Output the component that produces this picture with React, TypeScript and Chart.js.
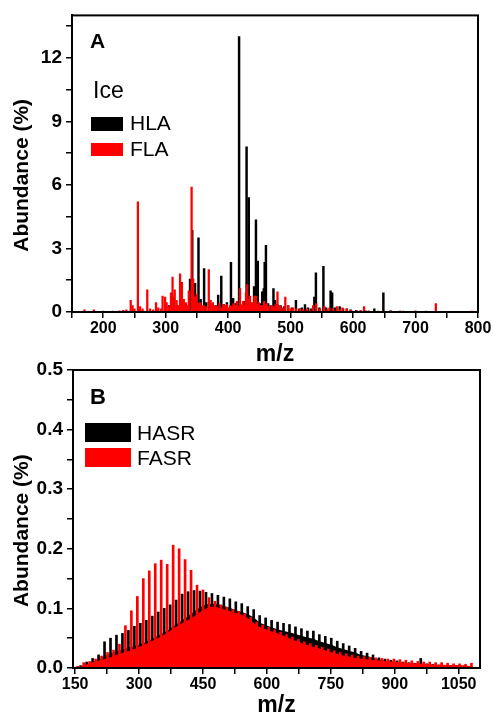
import React, { useEffect, useRef } from "react";
import { Chart, registerables } from "chart.js";

Chart.register(...registerables);

const FONT = "'Liberation Sans', Arial, sans-serif";

// ---------- Panel A (Ice: HLA / FLA) ----------
const hlaMz = [305, 311, 318, 325, 332, 338, 339, 342.5, 347, 352.5, 356, 361.5, 365, 370, 375, 380, 384, 389, 393, 398, 404.5, 408, 412, 417.5, 421, 425, 429.5, 433, 436, 441.5, 444.5, 447.5, 451, 454.5, 457, 458.5, 460.5, 464, 468, 472.5, 475, 479, 484, 490, 496, 502, 508.5, 514, 518, 523, 528, 533, 538, 540.5, 546, 552.5, 557, 564, 566.5, 571, 578.5, 584, 590, 596, 605, 620, 634, 648.5, 660, 675];
const hlaAbundance = [0.3, 0.7, 0.3, 0.6, 0.4, 0.9, 1.55, 3.85, 1.35, 3.5, 0.6, 2.05, 0.45, 0.4, 0.35, 0.3, 0.8, 1.7, 0.35, 0.45, 2.35, 0.65, 0.4, 13.0, 0.3, 0.5, 7.8, 5.4, 0.45, 1.2, 4.35, 2.4, 0.4, 0.95, 1.1, 2.35, 3.15, 0.4, 0.3, 1.1, 0.55, 0.35, 0.3, 0.25, 0.3, 0.2, 0.55, 0.15, 0.2, 0.35, 0.2, 0.15, 0.7, 1.85, 0.2, 2.15, 0.2, 1.0, 0.9, 0.2, 0.25, 0.15, 0.15, 0.1, 0.08, 0.05, 0.15, 0.9, 0.05, 0.04];

const flaMz = [170, 185, 200, 215, 226, 232, 237, 244, 247, 250, 255.5, 259, 263, 270.5, 275, 280, 284.5, 288, 292, 295, 299, 301.5, 305, 308.5, 311, 314.5, 317.5, 320, 323, 326, 329, 332, 334.5, 337, 341.5, 344, 346.5, 349.5, 352, 355, 358, 361, 364.5, 369, 372, 375.5, 379, 382, 386, 389, 392, 395, 398, 401, 403, 406, 408.5, 411, 414, 416, 419, 422, 424, 426.5, 428.5, 430.5, 433, 435, 438, 440, 442, 444.5, 447, 449, 452, 454, 457.5, 460, 462, 465, 469.5, 473, 476, 479, 483, 487, 491.5, 496, 500, 504, 509, 515, 520, 526, 531, 536, 541, 547, 554, 559, 562, 568, 574, 579, 583, 590, 597, 605, 612, 617.5, 625, 640, 660, 680, 700, 717, 732.5, 760, 790];
const flaAbundance = [0.1, 0.1, 0.04, 0.04, 0.05, 0.08, 0.1, 0.55, 0.3, 0.15, 5.2, 0.25, 0.15, 1.05, 0.15, 0.1, 0.45, 0.2, 0.15, 0.75, 0.7, 0.45, 0.25, 0.9, 1.65, 1.05, 0.55, 0.3, 1.8, 1.4, 0.6, 0.45, 0.3, 1.0, 5.9, 1.55, 0.7, 0.85, 0.4, 0.45, 0.3, 0.3, 0.25, 2.0, 0.55, 0.45, 0.3, 0.25, 0.4, 0.2, 0.35, 0.3, 0.35, 0.2, 0.3, 0.25, 0.4, 0.3, 0.5, 0.25, 1.1, 0.35, 0.5, 0.3, 0.9, 1.3, 0.6, 0.75, 0.4, 0.45, 0.75, 0.75, 0.35, 0.45, 0.3, 0.3, 0.5, 0.3, 0.4, 0.25, 0.3, 0.25, 0.35, 0.95, 0.3, 0.2, 0.7, 0.3, 0.15, 0.2, 0.15, 0.15, 0.12, 0.15, 0.1, 0.3, 0.4, 0.15, 0.25, 0.1, 0.2, 0.15, 0.25, 0.12, 0.2, 0.15, 0.08, 0.06, 0.08, 0.25, 0.05, 0.04, 0.05, 0.04, 0.05, 0.04, 0.4, 0.03, 0.04];

// ---------- Panel B (HASR / FASR) ----------
const fasrMz = [156, 170, 184, 198, 212, 226, 240, 254, 268, 282, 296, 310, 324, 338, 352, 366, 380, 394, 408, 422, 436, 450, 464, 478, 492, 506, 520, 534, 548, 562, 576, 590, 604, 618, 632, 646, 660, 674, 688, 702, 716, 730, 744, 758, 772, 786, 800, 814, 828, 842, 856, 870, 884, 898, 912, 926, 940, 954, 968, 982, 996, 1010, 1024, 1038, 1052, 1066, 1080];
const fasrBase = [0, 0.004, 0.008, 0.011, 0.014, 0.016, 0.02, 0.024, 0.027, 0.03, 0.034, 0.038, 0.043, 0.048, 0.053, 0.059, 0.066, 0.072, 0.078, 0.083, 0.09, 0.097, 0.102, 0.103, 0.1, 0.097, 0.094, 0.091, 0.087, 0.08, 0.071, 0.067, 0.063, 0.06, 0.056, 0.052, 0.048, 0.044, 0.04, 0.037, 0.034, 0.031, 0.028, 0.025, 0.022, 0.02, 0.018, 0.016, 0.015, 0.014, 0.013, 0.012, 0.011, 0.0105, 0.01, 0.009, 0.008, 0.0075, 0.007, 0.0065, 0.006, 0.0055, 0.005, 0.005, 0.005, 0.004, 0.003];
const fasrPeak = [0.003, 0.009, 0.011, 0.015, 0.02, 0.026, 0.03, 0.04, 0.071, 0.096, 0.12, 0.15, 0.163, 0.175, 0.181, 0.174, 0.206, 0.2, 0.182, 0.164, 0.139, 0.131, 0.118, 0.112, 0.106, 0.102, 0.098, 0.095, 0.091, 0.085, 0.077, 0.072, 0.068, 0.064, 0.06, 0.056, 0.052, 0.048, 0.044, 0.041, 0.038, 0.035, 0.032, 0.029, 0.026, 0.024, 0.022, 0.02, 0.019, 0.018, 0.017, 0.016, 0.015, 0.015, 0.014, 0.013, 0.012, 0.011, 0.01, 0.01, 0.009, 0.009, 0.008, 0.007, 0.007, 0.006, 0.008];

const hasrMz = [163, 177, 191, 205, 219, 233, 247, 261, 275, 289, 303, 317, 331, 345, 359, 373, 387, 401, 415, 429, 443, 457, 471, 485, 499, 513, 527, 541, 555, 569, 583, 597, 611, 625, 639, 653, 667, 681, 695, 709, 723, 737, 751, 765, 779, 793, 807, 821, 835, 849, 863, 877, 891, 905, 919, 933, 947, 961, 975, 989, 1003, 1017, 1031, 1045, 1059, 1073, 1087];
const hasrBase = [0.002, 0.006, 0.01, 0.014, 0.02, 0.024, 0.028, 0.031, 0.034, 0.037, 0.04, 0.044, 0.049, 0.054, 0.06, 0.066, 0.073, 0.08, 0.087, 0.095, 0.102, 0.107, 0.108, 0.107, 0.104, 0.101, 0.097, 0.094, 0.09, 0.085, 0.076, 0.072, 0.068, 0.065, 0.062, 0.06, 0.057, 0.054, 0.051, 0.049, 0.045, 0.042, 0.039, 0.035, 0.032, 0.029, 0.026, 0.022, 0.02, 0.017, 0.014, 0.012, 0.011, 0.01, 0.009, 0.008, 0.007, 0.007, 0.006, 0.005, 0.004, 0.004, 0.003, 0.003, 0.002, 0.002, 0.001];
const hasrPeak = [0.004, 0.01, 0.016, 0.022, 0.044, 0.05, 0.055, 0.058, 0.063, 0.07, 0.075, 0.08, 0.087, 0.094, 0.1, 0.106, 0.114, 0.124, 0.128, 0.13, 0.129, 0.127, 0.125, 0.122, 0.119, 0.116, 0.111, 0.108, 0.103, 0.098, 0.088, 0.084, 0.08, 0.077, 0.075, 0.073, 0.069, 0.066, 0.062, 0.062, 0.056, 0.053, 0.05, 0.045, 0.041, 0.037, 0.033, 0.028, 0.025, 0.022, 0.017, 0.015, 0.013, 0.012, 0.01, 0.009, 0.008, 0.016, 0.007, 0.006, 0.005, 0.004, 0.004, 0.003, 0.003, 0.002, 0.001];

const RED = "#ff0000";
const BLACK = "#000000";

const pts = (xs: number[], ys: number[]) => xs.map((x, i) => ({ x, y: ys[i] }));

type LegendItem = { label: string; color: string; box: [number, number, number, number]; tx: number; ty: number };

function decorPlugin(letter: { text: string; x: number; y: number; size: number }, header: { text: string; x: number; y: number } | null, items: LegendItem[], textSize: number) {
  return {
    id: "decor",
    afterDatasetsDraw(chart: any) {
      const { ctx, chartArea } = chart;
      ctx.save();
      ctx.strokeStyle = "#000";
      ctx.lineWidth = 2;
      ctx.strokeRect(chartArea.left, chartArea.top, chartArea.right - chartArea.left, chartArea.bottom - chartArea.top);
      ctx.restore();
    },
    afterDraw(chart: any) {
      const { ctx } = chart;
      ctx.save();
      ctx.fillStyle = "#000";
      ctx.textAlign = "left";
      ctx.textBaseline = "alphabetic";
      ctx.font = `bold ${letter.size}px ${FONT}`;
      ctx.fillText(letter.text, letter.x, letter.y);
      if (header) {
        ctx.font = `23px ${FONT}`;
        ctx.fillText(header.text, header.x, header.y);
      }
      ctx.font = `${textSize}px ${FONT}`;
      for (const it of items) {
        ctx.fillStyle = it.color;
        ctx.fillRect(it.box[0], it.box[1], it.box[2], it.box[3]);
        ctx.fillStyle = "#000";
        ctx.fillText(it.label, it.tx, it.ty);
      }
      ctx.restore();
    },
  };
}

function axisTitle(text: string, size: number, padding: any) {
  return { display: true, text, color: "#000", font: { family: FONT, size, weight: "bold" as const, lineHeight: 1 }, padding };
}

function configA(): any {
  return {
    type: "bar",
    data: {
      datasets: [
        { label: "FLA", data: pts(flaMz, flaAbundance), backgroundColor: RED, barThickness: 1.6, grouped: false, order: 0 },
        { label: "HLA", data: pts(hlaMz, hlaAbundance), backgroundColor: BLACK, barThickness: 1.8, grouped: false, order: 1 },
      ],
    },
    options: {
      animation: false,
      responsive: false,
      devicePixelRatio: 1,
      layout: { padding: { left: 0, top: 14, right: 15, bottom: 0 } },
      plugins: { legend: { display: false }, tooltip: { enabled: false } },
      scales: {
        x: {
          type: "linear",
          min: 150,
          max: 800,
          offset: false,
          grid: { offset: false, drawOnChartArea: false, drawTicks: true, tickLength: 6, color: "#000", lineWidth: 1.5 },
          border: { display: true, color: "#000", width: 2 },
          ticks: {
            stepSize: 50,
            autoSkip: false,
            includeBounds: false,
            maxRotation: 0,
            padding: 1,
            color: "#000",
            font: { family: FONT, size: 16, weight: "bold" },
            callback: (v: number) => (v % 100 === 0 ? String(v) : ""),
          },
          title: axisTitle("m/z", 23, { top: 0, bottom: 3.5 }),
          afterFit: (s: any) => { s.height = 58; },
        },
        y: {
          min: 0,
          max: 14,
          grid: { drawOnChartArea: false, drawTicks: true, tickLength: 6, color: "#000", lineWidth: 1.5 },
          border: { display: true, color: "#000", width: 2 },
          ticks: {
            stepSize: 1.5,
            autoSkip: false,
            includeBounds: false,
            padding: 4,
            color: "#000",
            font: { family: FONT, size: 19, weight: "bold" },
            callback: (v: number) => (Math.abs(v % 3) < 1e-9 ? String(v) : ""),
          },
          title: axisTitle("Abundance (%)    ", 21, { top: 12, bottom: 0 }),
          afterFit: (s: any) => { s.width = 72; },
        },
      },
    },
    plugins: [
      decorPlugin(
        { text: "A", x: 90, y: 48, size: 21 },
        { text: "Ice", x: 93, y: 98 },
        [
          { label: "HLA", color: BLACK, box: [91, 117, 32, 14], tx: 130, ty: 130 },
          { label: "FLA", color: RED, box: [91, 143, 32, 13], tx: 130, ty: 156 },
        ],
        21
      ),
    ],
  };
}

function configB(): any {
  return {
    type: "bar",
    data: {
      datasets: [
        { label: "FASR peaks", data: pts(fasrMz, fasrPeak), backgroundColor: RED, barThickness: 2, grouped: false, order: 0 },
        { type: "line", label: "FASR", data: pts(fasrMz, fasrBase), backgroundColor: RED, borderColor: RED, borderWidth: 0, pointRadius: 0, tension: 0, fill: "origin", order: 1 },
        { label: "HASR peaks", data: pts(hasrMz, hasrPeak), backgroundColor: BLACK, barThickness: 2, grouped: false, order: 2 },
        { type: "line", label: "HASR", data: pts(hasrMz, hasrBase), backgroundColor: BLACK, borderColor: BLACK, borderWidth: 0, pointRadius: 0, tension: 0, fill: "origin", order: 3 },
      ],
    },
    options: {
      animation: false,
      responsive: false,
      devicePixelRatio: 1,
      layout: { padding: { left: 0, top: 20, right: 13, bottom: 0 } },
      plugins: { legend: { display: false }, tooltip: { enabled: false } },
      scales: {
        x: {
          type: "linear",
          min: 145,
          max: 1100,
          offset: false,
          grid: { offset: false, drawOnChartArea: false, drawTicks: true, tickLength: 6, color: "#000", lineWidth: 1.5 },
          border: { display: true, color: "#000", width: 2 },
          ticks: {
            stepSize: 75,
            autoSkip: false,
            includeBounds: false,
            maxRotation: 0,
            padding: 1,
            color: "#000",
            font: { family: FONT, size: 16, weight: "bold" },
            callback: (v: number) => (v % 150 === 0 ? String(v) : ""),
          },
          title: axisTitle("m/z", 23, { top: 0, bottom: 0 }),
          afterFit: (s: any) => { s.height = 49; },
        },
        y: {
          min: 0,
          max: 0.5,
          grid: { drawOnChartArea: false, drawTicks: true, tickLength: 6, color: "#000", lineWidth: 1.5 },
          border: { display: true, color: "#000", width: 2 },
          ticks: {
            stepSize: 0.05,
            autoSkip: false,
            includeBounds: false,
            padding: 4,
            color: "#000",
            font: { family: FONT, size: 19, weight: "bold" },
            callback: (v: number) => (Math.round(v * 100) % 10 === 0 ? v.toFixed(1) : ""),
          },
          title: axisTitle("Abundance (%)    ", 21, { top: 12, bottom: 0 }),
          afterFit: (s: any) => { s.width = 73; },
        },
      },
    },
    plugins: [
      decorPlugin(
        { text: "B", x: 90, y: 54, size: 22 },
        null,
        [
          { label: "HASR", color: BLACK, box: [85, 73, 46, 19], tx: 137, ty: 90 },
          { label: "FASR", color: RED, box: [85, 98, 46, 19], tx: 137, ty: 115 },
        ],
        21
      ),
    ],
  };
}

export default function App() {
  const topRef = useRef<HTMLCanvasElement>(null);
  const botRef = useRef<HTMLCanvasElement>(null);
  useEffect(() => {
    const a = new Chart(topRef.current as HTMLCanvasElement, configA());
    const b = new Chart(botRef.current as HTMLCanvasElement, configB());
    return () => {
      a.destroy();
      b.destroy();
    };
  }, []);
  return (
    <div style={{ position: "absolute", left: 0, top: 0, width: 493, height: 717, background: "#fff", overflow: "hidden" }}>
      <canvas ref={topRef} width={493} height={370} style={{ position: "absolute", left: 0, top: 0, width: 493, height: 370 }} />
      <canvas ref={botRef} width={493} height={367} style={{ position: "absolute", left: 0, top: 350, width: 493, height: 367 }} />
    </div>
  );
}
